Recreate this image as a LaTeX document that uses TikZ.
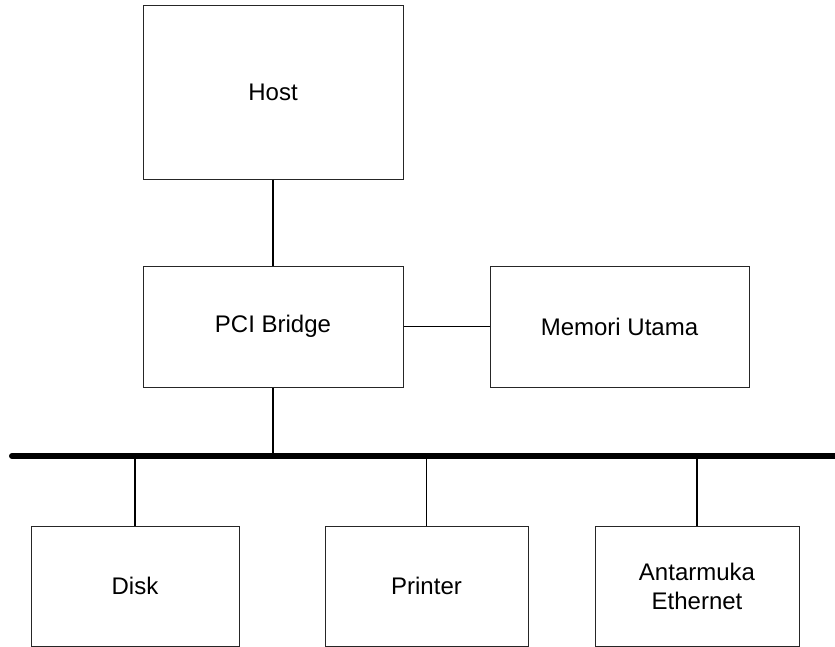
\documentclass[tikz,border=0pt]{standalone}
\usepackage{fontspec}
\setmainfont{Liberation Sans}
\begin{document}
\begin{tikzpicture}[x=0.5pt,y=-0.5pt,
  box/.style={draw=black!85, line width=0.5pt, rectangle, inner sep=0pt,
    align=center, font=\fontsize{12}{14.5}\selectfont},
  link/.style={draw=black, line width=0.65pt},
  bus/.style={draw=black, line width=3pt}]
\useasboundingbox (0,0) rectangle (835,647);

% system components
\node[box, minimum width=130pt, minimum height=86.5pt] (host) at (273,92.5) {Host};
\node[box, minimum width=130pt, minimum height=60.5pt] (pci) at (273,326.5) {PCI Bridge};
\node[box, minimum width=129.5pt, minimum height=60.5pt] (mem) at (619.5,326.5) {Memori Utama};
\node[box, minimum width=104pt, minimum height=60pt] (disk) at (135,586) {Disk};
\node[box, minimum width=101.5pt, minimum height=60pt] (printer) at (426.5,586) {Printer};
\node[box, minimum width=102pt, minimum height=60pt] (eth) at (697,586) {Antarmuka\\Ethernet};

% PCI bus
\coordinate (busL) at (12,456);
\coordinate (busR) at (835,456);
\draw[bus, line cap=round] (busL) -- (busR);

% connections
\draw[link] (host) -- (pci);
\draw[link] (pci) -- (mem);
\draw[link] (pci.south) -- (pci.south |- busL);
\draw[link] (disk.north) -- (disk.north |- busL);
\draw[link] (printer.north) -- (printer.north |- busL);
\draw[link] (eth.north) -- (eth.north |- busL);
\end{tikzpicture}
\end{document}
